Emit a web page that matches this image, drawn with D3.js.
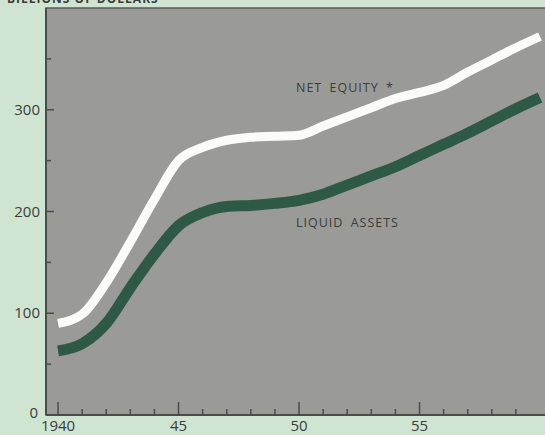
<!DOCTYPE html>
<html>
<head>
<meta charset="utf-8">
<script src="https://cdn.jsdelivr.net/npm/d3@7"></script>
<style>
  body { margin: 0; background: #cfe5d2; }
  svg { display: block; }
  text { font-family: "Open Sans", "DejaVu Sans", sans-serif; fill: #3a3d3a; }
</style>
</head>
<body>
<div id="chart"></div>
<script>
// datos (miles de millones de dolares)
var years = [1940, 1941, 1942, 1943, 1944, 1945, 1946, 1947, 1948, 1949, 1950,
  1951, 1952, 1953, 1954, 1955, 1956, 1957, 1958, 1959, 1960];
var netEquity = [90, 99, 130, 170, 212, 250, 263, 270, 273, 274, 275,
  284, 293, 302, 311, 317, 324, 337, 349, 361, 372];
var liquidAssets = [63, 70, 90, 125, 158, 186, 199, 205, 206, 208, 211,
  217, 226, 235, 244, 255, 266, 277, 289, 301, 312];
var yTicks = [0, 100, 200, 300];
var xTickLabels = [[1940, "1940"], [1945, "45"], [1950, "50"], [1955, "55"]];

var width = 545;
var height = 435;
var plot = { left: 46, top: 8, bottom: 415 };

var svg = d3.select("#chart")
  .append("svg")
  .attr("width", width)
  .attr("height", height);

// escalas
var escalaX = d3.scaleLinear()
  .domain([1939.5, 1960])
  .range([plot.left, 540]);

var escalaY = d3.scaleLinear()
  .domain([0, 400])
  .range([plot.bottom, plot.top]);

// titulo cortado arriba (como en el original)
svg.append("text")
  .attr("x", 7)
  .attr("y", 3)
  .style("font-size", "12px")
  .style("font-weight", "bold")
  .style("letter-spacing", "1px")
  .text("BILLIONS OF DOLLARS");

// fondo gris del area
svg.append("rect")
  .attr("x", plot.left)
  .attr("y", plot.top)
  .attr("width", width - plot.left + 5)
  .attr("height", plot.bottom - plot.top)
  .style("fill", "#9a9a97")
  .style("stroke", "#5a5c5a")
  .style("stroke-width", 1.5);

// eje Y
svg.append("line")
  .attr("x1", plot.left).attr("x2", plot.left)
  .attr("y1", plot.top).attr("y2", plot.bottom)
  .style("stroke", "#4a4d4a").style("stroke-width", 2);

var yMinor = d3.range(50, 400, 100);
svg.selectAll(".ytick")
  .data(yTicks.concat(yMinor))
  .enter()
  .append("line")
  .attr("x1", plot.left)
  .attr("x2", function (d) { return plot.left + (d % 100 === 0 ? 8 : 5); })
  .attr("y1", function (d) { return escalaY(d); })
  .attr("y2", function (d) { return escalaY(d); })
  .style("stroke", "#4a4d4a")
  .style("stroke-width", 1.5);

svg.selectAll(".ylabel")
  .data(yTicks)
  .enter()
  .append("text")
  .attr("x", function (d) { return d === 0 ? 38 : 40; })
  .attr("y", function (d) { return escalaY(d) + (d === 0 ? 3 : 5); })
  .attr("text-anchor", "end")
  .style("font-size", "15px")
  .text(function (d) { return d; });

// eje X
svg.append("line")
  .attr("x1", plot.left).attr("x2", width)
  .attr("y1", plot.bottom).attr("y2", plot.bottom)
  .style("stroke", "#4a4d4a").style("stroke-width", 2);

svg.selectAll(".xtick")
  .data(d3.range(1940, 1960))
  .enter()
  .append("line")
  .attr("x1", function (d) { return escalaX(d); })
  .attr("x2", function (d) { return escalaX(d); })
  .attr("y1", plot.bottom)
  .attr("y2", function (d) { return plot.bottom - (d % 5 === 0 ? 13 : 6); })
  .style("stroke", "#4a4d4a")
  .style("stroke-width", 1.5);

svg.selectAll(".xlabel")
  .data(xTickLabels)
  .enter()
  .append("text")
  .attr("x", function (d) { return escalaX(d[0]); })
  .attr("y", 431)
  .attr("text-anchor", "middle")
  .style("font-size", "15px")
  .text(function (d) { return d[1]; });

// lineas
var line = d3.line()
  .x(function (d, i) { return escalaX(years[i]); })
  .y(function (d) { return escalaY(d); })
  .curve(d3.curveMonotoneX);

svg.append("path")
  .datum(liquidAssets)
  .attr("d", line)
  .style("fill", "none")
  .style("stroke", "#2e5a45")
  .style("stroke-width", 11);

svg.append("path")
  .datum(netEquity)
  .attr("d", line)
  .style("fill", "none")
  .style("stroke", "#fbfbf7")
  .style("stroke-width", 9);

// etiquetas de series
svg.append("text")
  .attr("x", 296)
  .attr("y", 92)
  .style("font-size", "12.5px")
  .style("letter-spacing", "1px")
  .style("word-spacing", "3px")
  .text("NET EQUITY *");

svg.append("text")
  .attr("x", 296)
  .attr("y", 227)
  .style("font-size", "12.5px")
  .style("letter-spacing", "1px")
  .style("word-spacing", "3px")
  .text("LIQUID ASSETS");
</script>
</body>
</html>
